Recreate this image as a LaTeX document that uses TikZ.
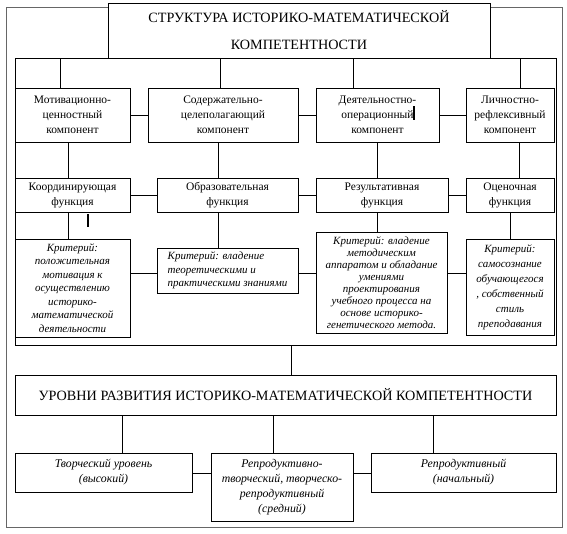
\documentclass[tikz,border=0pt]{standalone}
\usepackage{fontspec}
\setmainfont{Liberation Serif}
\usetikzlibrary{calc, positioning}

\tikzset{
  box/.style={draw, align=center, inner sep=1pt, font=\fontsize{11.5}{15}\selectfont},
  crit/.style={box, font=\fontsize{11}{13.5}\selectfont\itshape},
  level/.style={box, font=\fontsize{11.8}{15}\selectfont\itshape},
  headbox/.style={draw, align=center, font=\fontsize{14.2}{27}\selectfont}
}

\begin{document}
\begin{tikzpicture}[x=1pt, y=-1pt, line width=0.6pt]
    \useasboundingbox (0,0) rectangle (567,533);

    % Frames
    \draw[gray!80!black, line width=1pt] (6,7) rectangle (562,527);
    \draw (15,58) rectangle (556,345);
    \node[headbox, fill=white, minimum width=382pt, minimum height=55pt] (head) at (299,30.5)
        {СТРУКТУРА ИСТОРИКО-МАТЕМАТИЧЕСКОЙ\\КОМПЕТЕНТНОСТИ};

    % Components
    \node[box, minimum width=115pt, minimum height=54pt] (mot) at (72.5,115) {Мотивационно-\\ценностный\\компонент};
    \node[box, minimum width=150pt, minimum height=54pt] (sod) at (223,115) {Содержательно-\\целеполагающий\\компонент};
    \node[box, minimum width=123pt, minimum height=54pt] (dey) at (377.5,115) {Деятельностно-\\операционный\\компонент};
    \node[box, minimum width=88pt, minimum height=54pt] (lich) at (510,115) {Личностно-\\рефлексивный\\компонент};

    \draw (mot) -- (sod);
    \draw (sod) -- (dey);
    \draw (dey) -- (lich);
    \draw (60,58) -- (mot.north -| 60,0);
    \draw (220,58) -- (sod.north -| 220,0);
    \draw (353,58) -- (dey.north -| 353,0);
    \draw (520,58) -- (lich.north -| 520,0);

    % Functions
    \node[box, minimum width=115pt, minimum height=34pt] (koord) at (72.5,195) {Координирующая\\функция};
    \node[box, minimum width=141pt, minimum height=34pt] (obr) at (227.5,195) {Образовательная\\функция};
    \node[box, minimum width=132pt, minimum height=34pt] (rez) at (382,195) {Результативная\\функция};
    \node[box, minimum width=88pt, minimum height=34pt] (ocen) at (510,195) {Оценочная\\функция};

    \draw (koord) -- (obr);
    \draw (obr) -- (rez);
    \draw (rez) -- (ocen);
    \draw (mot.south -| 68,0) -- (koord.north -| 68,0);
    \draw (sod.south -| 218,0) -- (obr.north -| 218,0);
    \draw (dey.south -| 377,0) -- (rez.north -| 377,0);
    \draw (lich.south -| 519,0) -- (ocen.north -| 519,0);

    % Criteria
    \node[crit, minimum width=115pt, minimum height=98pt] (krit1) at (72.5,288)
        {Критерий:\\положительная\\мотивация к\\осуществлению\\историко-\\математической\\деятельности};
    \node[crit, align=left, minimum width=141pt, minimum height=45pt] (krit2) at (227.5,270.5)
        {Критерий: владение\\теоретическими и\\практическими знаниями};
    \node[crit, font=\fontsize{11}{12}\selectfont\itshape, minimum width=131pt, minimum height=101pt] (krit3) at (381.5,282.5)
        {Критерий: владение\\методическим\\аппаратом и обладание\\умениями\\проектирования\\учебного процесса на\\основе историко-\\генетического метода.};
    \node[crit, font=\fontsize{11}{15}\selectfont\itshape, minimum width=88pt, minimum height=96pt] (krit4) at (510,287)
        {Критерий:\\самосознание\\обучающегося\\, собственный\\стиль\\преподавания};

    \draw (krit1.east |- 0,273) -- (krit2.west |- 0,273);
    \draw (krit2.east |- 0,273) -- (krit3.west |- 0,273);
    \draw (krit3.east |- 0,273) -- (krit4.west |- 0,273);
    \draw (koord.south -| 68,0) -- (krit1.north -| 68,0);
    \draw (obr.south -| 218,0) -- (krit2.north -| 218,0);
    \draw (rez.south -| 377,0) -- (krit3.north -| 377,0);
    \draw (ocen.south -| 510,0) -- (krit4.north -| 510,0);

    % Cursor marks
    \draw[line width=1.3pt] (88,214) -- (88,227);
    \draw[line width=1.1pt] (414,106) -- (414,120);

    % Levels
    \node[headbox, minimum width=541pt, minimum height=40pt] (lev) at (285.5,395)
        {УРОВНИ РАЗВИТИЯ ИСТОРИКО-МАТЕМАТИЧЕСКОЙ КОМПЕТЕНТНОСТИ};
    \draw (291,345) -- (lev.north -| 291,0);

    \node[level, minimum width=177pt, minimum height=39pt] (high) at (103.5,472.5) {Творческий уровень\\(высокий)};
    \node[level, minimum width=142pt, minimum height=68pt] (mid) at (282,487) {Репродуктивно-\\творческий, творческо-\\репродуктивный\\(средний)};
    \node[level, minimum width=185pt, minimum height=39pt] (low) at (463.5,472.5) {Репродуктивный\\(начальный)};

    \draw (high.east |- 0,473) -- (mid.west |- 0,473);
    \draw (mid.east |- 0,473) -- (low.west |- 0,473);
    \draw (lev.south -| 122,0) -- (high.north -| 122,0);
    \draw (lev.south -| 273,0) -- (mid.north -| 273,0);
    \draw (lev.south -| 433,0) -- (low.north -| 433,0);
\end{tikzpicture}
\end{document}
